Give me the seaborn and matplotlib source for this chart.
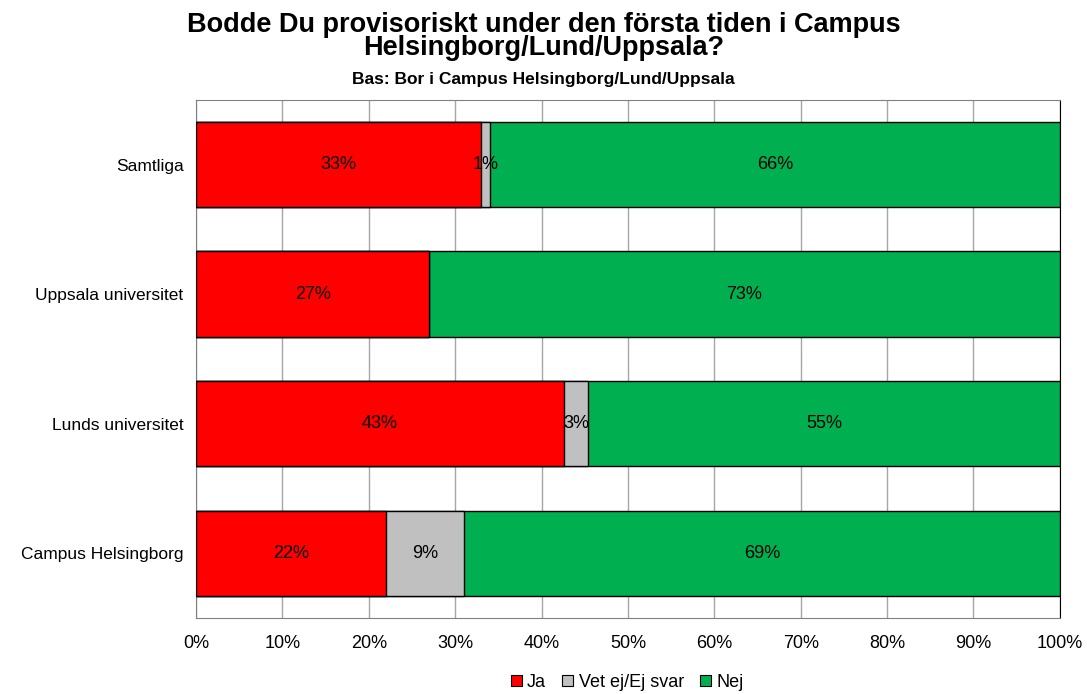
import numpy as np
import pandas as pd
import matplotlib
matplotlib.use("Agg")
import matplotlib.pyplot as plt
import seaborn as sns
from matplotlib.patches import Patch

# Data
kategorier = ["Samtliga", "Uppsala universitet", "Lunds universitet", "Campus Helsingborg"]
ja = [33.0, 27.0, 42.6, 22.0]
vet_ej = [1.0, 0.0, 2.8, 9.0]
nej = [66.0, 73.0, 54.6, 69.0]
serier = ["Ja", "Vet ej/Ej svar", "Nej"]
farger = ["#ff0000", "#c0c0c0", "#00b050"]
xticks = np.arange(0, 101, 10)

df = pd.DataFrame({"Kategori": kategorier, "Ja": ja, "Vet ej/Ej svar": vet_ej, "Nej": nej})
# cumulative sums for stacking
df["c_ja"] = df["Ja"]
df["c_vet"] = df["Ja"] + df["Vet ej/Ej svar"]
df["c_nej"] = df["c_vet"] + df["Nej"]

sns.set_style("white")
plt.rcParams["font.family"] = ["Liberation Sans", "DejaVu Sans"]
plt.rcParams["text.color"] = "black"
plt.rcParams["xtick.color"] = "black"
plt.rcParams["ytick.color"] = "black"

fig = plt.figure(figsize=(10.87, 6.94), dpi=100)
ax = fig.add_axes([0.1803, 0.1095, 0.7947, 0.7465])

# draw from back to front so the stacks show
for kol, farg in zip(["c_nej", "c_vet", "c_ja"], farger[::-1]):
    sns.barplot(data=df, x=kol, y="Kategori", order=kategorier, color=farg,
                width=0.66, edgecolor="black", linewidth=1, ax=ax, saturation=1, zorder=3)

# labels in the middle of each segment
for i, rad in df.iterrows():
    start = 0
    for s in serier:
        v = rad[s]
        if v > 0:
            ax.text(start + v / 2, i, f"{v:.0f}%", ha="center", va="center",
                    fontsize=13, color="black", zorder=5)
        start += v

ax.set_xlim(0, 100)
ax.set_ylim(len(kategorier) - 0.5, -0.5)
ax.set_xticks(xticks)
ax.set_xticklabels([f"{t}%" for t in xticks], fontsize=13)
ax.set_yticks(np.arange(-0.5, len(kategorier), 1), minor=True)
ax.set_yticks(range(len(kategorier)))
ax.set_yticklabels(kategorier, fontsize=12.5)
ax.tick_params(axis="y", which="major", length=0, pad=9)
ax.tick_params(axis="y", which="minor", length=5, color="#808080", direction="out")
ax.tick_params(axis="x", length=5, color="#808080", direction="out", pad=7)
ax.set_xlabel("")
ax.set_ylabel("")
ax.grid(axis="x", color="#a6a6a6", linewidth=1, zorder=0)
ax.set_axisbelow(True)
for side in ["left", "top", "bottom"]:
    ax.spines[side].set_color("#808080")
ax.spines["right"].set_color("black")

fig.text(0.5, 0.983, "Bodde Du provisoriskt under den första tiden i Campus\nHelsingborg/Lund/Uppsala?",
         ha="center", va="top", fontsize=19.5, fontweight="bold", linespacing=0.87)
fig.text(0.5, 0.896, "Bas: Bor i Campus Helsingborg/Lund/Uppsala", ha="center", va="top",
         fontsize=12.5, fontweight="bold")

handles = [Patch(facecolor=f, edgecolor="black", linewidth=0.8) for f in farger]
fig.legend(handles, serier, loc="lower center", bbox_to_anchor=(0.577, -0.019), ncol=3,
           frameon=False, fontsize=13, handlelength=0.6, handleheight=0.6,
           handletextpad=0.3, columnspacing=0.9)

fig.savefig("out.png", dpi=100)
